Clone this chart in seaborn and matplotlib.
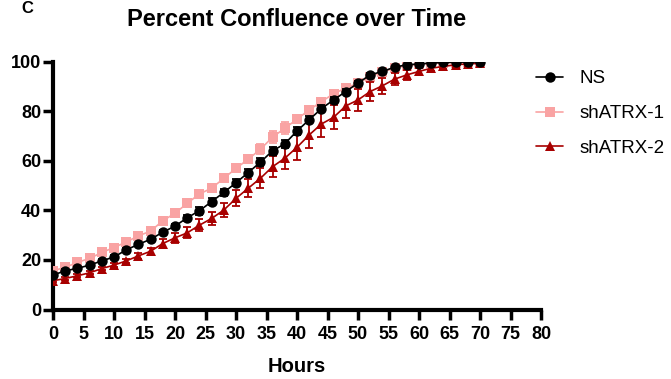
import numpy as np
import pandas as pd
import matplotlib
matplotlib.use("Agg")
import matplotlib.pyplot as plt
import seaborn as sns

hours = list(range(0, 72, 2))

ns_mean = [13.9, 15.6, 16.6, 17.9, 19.6, 21.2, 24.0, 26.3, 28.3, 31.2, 33.6, 37.0,
           39.8, 43.5, 47.2, 51.1, 55.2, 59.4, 64.0, 66.8, 72.0, 76.5, 81.0, 84.5,
           87.9, 91.3, 94.6, 96.0, 97.7, 98.7, 99.0, 99.4, 99.6, 99.7, 99.8, 99.8]
ns_err = [1.0, 0.6, 0.6, 0.6, 0.6, 0.6, 0.7, 0.7, 0.7, 0.8, 0.9, 1.2,
          1.5, 1.3, 1.3, 1.5, 1.5, 1.6, 1.6, 1.6, 1.5, 1.4, 1.3, 1.2,
          1.0, 0.8, 0.7, 0.6, 0.5, 0.4, 0.4, 0.3, 0.3, 0.3, 0.3, 0.3]

sh1_mean = [15.6, 17.0, 19.0, 20.6, 23.0, 25.0, 27.2, 29.7, 31.6, 35.8, 38.8, 42.8,
            46.6, 48.9, 52.9, 56.9, 60.6, 64.6, 69.5, 73.1, 76.7, 80.5, 83.8, 87.0,
            89.3, 91.3, 93.8, 95.8, 97.3, 98.3, 98.9, 99.2, 99.4, 99.5, 99.6, 99.6]
sh1_err = [0.6, 0.5, 0.5, 0.5, 0.5, 0.5, 0.6, 0.6, 0.6, 0.7, 0.8, 0.9,
           1.0, 1.0, 1.2, 1.4, 1.6, 2.0, 2.4, 2.4, 1.6, 1.4, 1.2, 1.0,
           0.9, 0.8, 0.7, 0.6, 0.6, 0.5, 0.5, 0.4, 0.4, 0.4, 0.4, 0.4]

sh2_mean = [11.6, 12.5, 13.6, 14.8, 16.5, 17.9, 19.6, 21.6, 23.5, 26.6, 28.9, 30.9,
            34.0, 36.7, 40.1, 44.8, 48.9, 52.9, 57.6, 61.0, 65.4, 70.4, 74.8, 77.5,
            82.1, 84.5, 87.9, 90.2, 92.9, 94.6, 96.0, 97.3, 98.0, 98.7, 99.0, 99.3]
sh2_err = [0.6, 0.6, 0.6, 0.6, 0.7, 0.8, 0.9, 1.2, 1.5, 1.8, 2.0, 2.2,
           2.5, 2.6, 2.8, 3.2, 3.6, 4.0, 4.2, 4.5, 5.0, 5.2, 5.2, 4.8,
           5.0, 4.5, 4.0, 3.2, 2.5, 2.0, 1.5, 1.2, 1.0, 0.8, 0.7, 0.6]

series = ["NS", "shATRX-1", "shATRX-2"]
colors = {"NS": "#000000", "shATRX-1": "#F9A3A3", "shATRX-2": "#A80000"}
markers = {"NS": "o", "shATRX-1": "s", "shATRX-2": "^"}
msize = {"NS": 7.5, "shATRX-1": 6.5, "shATRX-2": 7.5}
zorders = {"NS": 5, "shATRX-1": 3, "shATRX-2": 4}

df = pd.concat([
    pd.DataFrame({"Hours": hours, "Confluence": m, "err": e, "Group": g})
    for g, m, e in zip(series, [ns_mean, sh1_mean, sh2_mean], [ns_err, sh1_err, sh2_err])
], ignore_index=True)

sns.set_theme(style="white")
plt.rcParams["font.family"] = ["Liberation Sans", "DejaVu Sans"]
plt.rcParams["text.color"] = "black"
plt.rcParams["axes.labelcolor"] = "black"
plt.rcParams["xtick.color"] = "black"
plt.rcParams["ytick.color"] = "black"

W, H = 671, 379
fig = plt.figure(figsize=(W / 100, H / 100), dpi=100)
ax = fig.add_axes([53 / W, 1 - 309.5 / H, 488 / W, 248 / H])

for g in ["shATRX-1", "shATRX-2", "NS"]:
    sub = df[df["Group"] == g]
    ax.errorbar(sub["Hours"], sub["Confluence"], yerr=sub["err"], fmt="none",
                ecolor=colors[g], elinewidth=1.3, capsize=3, capthick=1.3,
                zorder=zorders[g] - 0.5)
    sns.lineplot(data=sub, x="Hours", y="Confluence", ax=ax, color=colors[g],
                 marker=markers[g], markersize=msize[g], markeredgewidth=0,
                 linewidth=1.2, label=g, zorder=zorders[g], errorbar=None)

ax.set_xlim(0, 80)
ax.set_ylim(0, 100)
ax.set_xticks(range(0, 81, 5))
ax.set_yticks(range(0, 101, 20))
for lbl in ax.get_xticklabels() + ax.get_yticklabels():
    lbl.set_fontweight("bold")
    lbl.set_fontsize(13)
ax.tick_params(axis="x", which="major", direction="out", length=7, width=2.5,
               color="black", pad=5, bottom=True)
ax.tick_params(axis="y", which="major", direction="out", length=7.5, width=2.5,
               color="black", pad=1, left=True)
for side in ["top", "right"]:
    ax.spines[side].set_visible(False)
for side in ["left", "bottom"]:
    ax.spines[side].set_linewidth(3)
    ax.spines[side].set_color("black")
    ax.spines[side].set_capstyle("projecting")
ax.set_xlabel("")
ax.set_ylabel("")
ax.grid(False)

fig.text(297 / W, 1 - 366 / H, "Hours", fontsize=14.5, fontweight="bold",
         ha="center", va="center")
fig.text(297 / W, 1 - 20 / H, "Percent Confluence over Time", fontsize=17,
         fontweight="bold", ha="center", va="center")
fig.text(27 / W, 1 - 1 / H, "C", fontsize=12, fontweight="bold",
         ha="center", va="top")

handles, labels = ax.get_legend_handles_labels()
order = [labels.index(s) for s in series]
ax.legend([handles[i] for i in order], [labels[i] for i in order],
          loc="upper left", bbox_to_anchor=(536 / W, 1 - 70 / H),
          bbox_transform=fig.transFigure, frameon=False,
          fontsize=13.5, handlelength=1.45, labelspacing=0.95, borderaxespad=0,
          borderpad=0, handletextpad=0.85)

fig.savefig("out.png", dpi=100)
